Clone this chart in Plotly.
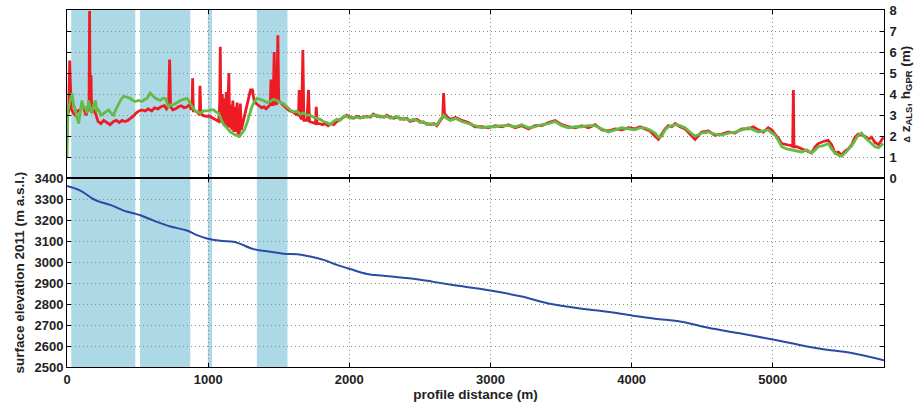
import plotly.graph_objects as go

# ---------------- data ----------------
ELEV_X = [0, 94, 189, 236, 307, 401, 472, 519, 614, 732, 850, 921, 992, 1086, 1180, 1228,
          1322, 1416, 1535, 1629, 1723, 1818, 1912, 2007, 2125, 2243, 2479, 2597, 2786,
          3000, 3222, 3410, 3646, 3788, 4000, 4165, 4354, 4543, 4755, 4992, 5133, 5370,
          5559, 5788]
ELEV_Y = [3363, 3341, 3300, 3287, 3273, 3246, 3233, 3224, 3198, 3170, 3151, 3129, 3113,
          3102, 3097, 3087, 3062, 3052, 3040, 3038, 3027, 3011, 2987, 2967, 2944, 2935,
          2919, 2906, 2886, 2865, 2836, 2803, 2778, 2767, 2746, 2730, 2716, 2687, 2662,
          2632, 2613, 2583, 2567, 2532]

GREEN_X = [0, 7, 20, 35, 47, 59, 70, 83, 95, 106, 118, 130, 141, 153, 165, 177, 189, 201,
           212, 224, 242, 260, 278, 295, 312, 330, 348, 366, 383, 401, 425, 449, 466, 484,
           508, 531, 549, 567, 590, 608, 626, 644, 661, 678, 696, 708, 720, 738, 755, 780,
           803, 826, 850, 862, 873, 891, 909, 927, 944, 967, 991, 1015, 1039, 1056, 1074,
           1092, 1110, 1133, 1157, 1180, 1204, 1222, 1239, 1257, 1274, 1292, 1310, 1328,
           1345, 1368, 1392, 1416, 1440, 1463, 1487, 1510, 1534, 1558, 1581, 1604, 1628,
           1652, 1676, 1700, 1723, 1747, 1770, 1794, 1817, 1840, 1864, 1888, 1912, 1935,
           1960, 1982, 2005, 2030, 2053, 2078, 2100, 2124, 2150, 2170, 2195, 2220, 2245,
           2266, 2290, 2315, 2337, 2360, 2385, 2408, 2430, 2455, 2479, 2500, 2525, 2549,
           2575, 2600, 2620, 2645, 2667, 2690, 2715, 2738, 2750, 2797, 2844, 2890, 2939,
           2985, 3033, 3080, 3128, 3175, 3222, 3270, 3316, 3364, 3411, 3458, 3505, 3552,
           3600, 3647, 3694, 3741, 3790, 3836, 3883, 3930, 3977, 4024, 4060, 4095, 4130,
           4166, 4190, 4213, 4237, 4260, 4285, 4308, 4343, 4378, 4413, 4449, 4496, 4544,
           4590, 4638, 4685, 4732, 4780, 4827, 4862, 4898, 4933, 4968, 4992, 5016, 5040,
           5063, 5098, 5134, 5170, 5204, 5240, 5275, 5300, 5322, 5358, 5393, 5417, 5440,
           5465, 5488, 5512, 5535, 5560, 5582, 5605, 5629, 5652, 5676, 5700, 5724, 5750,
           5783]
GREEN_Y = [1.0, 3.2, 3.6, 4.05, 3.5, 3.25, 2.9, 2.6, 3.2, 3.7, 3.3, 3.4, 3.1, 3.7, 3.3, 3.1,
           3.5, 3.7, 3.2, 3.25, 3.0, 3.1, 3.2, 3.25, 3.1, 3.0, 3.3, 3.55, 3.75, 3.9, 3.85,
           3.8, 3.7, 3.65, 3.7, 3.65, 3.75, 3.8, 4.05, 3.9, 3.8, 3.75, 3.7, 3.8, 3.8, 3.6,
           3.4, 3.5, 3.5, 3.6, 3.7, 3.75, 3.8, 3.7, 3.55, 3.35, 3.2, 3.15, 3.1, 3.2, 3.2,
           3.25, 3.25, 3.15, 3.1, 2.8, 2.55, 2.4, 2.2, 2.1, 2.05, 2.0, 2.15, 2.3, 2.6, 3.0,
           3.4, 3.65, 3.8, 3.75, 3.7, 3.6, 3.65, 3.75, 3.7, 3.6, 3.55, 3.4, 3.25, 3.15, 3.2,
           3.05, 3.1, 3.0, 3.0, 2.9, 2.85, 2.8, 2.7, 2.65, 2.55, 2.7, 2.8, 2.75, 2.95, 2.95,
           2.85, 2.9, 2.9, 2.85, 2.95, 2.9, 2.95, 3.0, 3.0, 2.9, 2.95, 2.95, 2.85, 2.9, 2.95,
           2.8, 2.85, 2.8, 2.75, 2.8, 2.75, 2.65, 2.7, 2.55, 2.6, 2.55, 2.55, 2.8, 3.0, 2.85,
           2.75, 2.8, 2.85, 2.7, 2.6, 2.5, 2.4, 2.45, 2.45, 2.5, 2.5, 2.45, 2.55, 2.4, 2.45,
           2.55, 2.6, 2.7, 2.5, 2.4, 2.45, 2.45, 2.5, 2.5, 2.35, 2.2, 2.3, 2.4, 2.35, 2.3,
           2.4, 2.4, 2.3, 2.15, 1.95, 2.0, 2.3, 2.45, 2.5, 2.55, 2.5, 2.4, 2.2, 2.0, 2.15,
           2.2, 2.1, 2.05, 2.15, 2.2, 2.3, 2.4, 2.3, 2.2, 2.25, 2.3, 2.15, 2.05, 1.8, 1.5,
           1.4, 1.35, 1.3, 1.25, 1.35, 1.2, 1.35, 1.5, 1.55, 1.65, 1.4, 1.2, 1.1, 1.05, 1.2,
           1.35, 1.55, 1.8, 2.05, 2.15, 1.95, 1.8, 1.65, 1.5, 1.45, 1.65]

RED_X = [0, 5, 12, 19, 30, 45, 59, 75, 95, 110, 120, 135, 150, 156, 160, 164, 170, 175,
         185, 201, 220, 240, 260, 285, 305, 330, 350, 370, 390, 410, 430, 449, 470, 490,
         510, 531, 555, 575, 600, 620, 645, 665, 690, 705, 720, 727, 734, 750, 770, 790,
         810, 830, 850, 868, 878, 886, 890, 895, 910, 930, 938, 942, 948, 960, 985, 1010,
         1035, 1060, 1075, 1082, 1086, 1090, 1100, 1108, 1115, 1122, 1128, 1134, 1140,
         1147, 1152, 1160, 1168, 1175, 1182, 1190, 1197, 1205, 1212, 1220, 1228, 1235,
         1245, 1255, 1270, 1285, 1300, 1314, 1325, 1340, 1360, 1380, 1395, 1410, 1425,
         1440, 1445, 1450, 1460, 1468, 1474, 1485, 1494, 1500, 1520, 1540, 1560, 1580,
         1600, 1620, 1640, 1645, 1650, 1662, 1671, 1678, 1700, 1711, 1718, 1740, 1760,
         1766, 1772, 1790, 1810, 1830, 1850, 1870, 1890, 1912, 1935, 1960, 1982, 2005,
         2030, 2053, 2078, 2100, 2124, 2150, 2170, 2195, 2220, 2245, 2266, 2290, 2315,
         2337, 2360, 2385, 2408, 2430, 2455, 2479, 2500, 2525, 2549, 2575, 2600, 2620,
         2645, 2662, 2668, 2674, 2690, 2715, 2738, 2750, 2797, 2844, 2890, 2939, 2985,
         3033, 3080, 3128, 3175, 3222, 3270, 3316, 3364, 3411, 3458, 3505, 3552, 3600,
         3647, 3694, 3741, 3790, 3836, 3883, 3930, 3977, 4024, 4060, 4095, 4130, 4166,
         4190, 4213, 4237, 4260, 4285, 4308, 4343, 4378, 4413, 4449, 4496, 4544, 4590,
         4638, 4685, 4732, 4780, 4827, 4862, 4898, 4933, 4968, 4992, 5016, 5040, 5063,
         5098, 5134, 5141, 5146, 5150, 5170, 5204, 5240, 5275, 5300, 5322, 5358, 5393,
         5417, 5440, 5465, 5488, 5512, 5535, 5560, 5582, 5605, 5629, 5652, 5676, 5700,
         5724, 5750, 5783]
RED_Y = [2.9, 3.1, 3.2, 5.6, 3.3, 3.1, 3.0, 3.2, 3.25, 3.5, 3.3, 3.0, 3.4, 3.2, 7.95, 3.5,
         4.9, 3.1, 3.3, 3.1, 2.7, 2.6, 2.75, 2.65, 2.55, 2.7, 2.75, 2.65, 2.75, 2.7, 2.75,
         2.85, 2.95, 3.1, 3.2, 3.25, 3.2, 3.3, 3.2, 3.35, 3.3, 3.4, 3.45, 3.3, 3.45, 5.65,
         3.4, 3.25, 3.3, 3.4, 3.45, 3.35, 3.4, 3.5, 3.3, 3.3, 4.75, 3.2, 3.2, 3.1, 3.0,
         4.4, 3.1, 3.0, 2.95, 2.95, 2.85, 2.75, 2.7, 3.6, 6.25, 2.65, 4.0, 2.6, 3.8, 2.5,
         4.1, 2.4, 3.6, 5.0, 2.4, 3.5, 2.3, 3.7, 2.2, 3.4, 2.2, 3.6, 2.1, 1.95, 3.55, 2.3,
         2.6, 2.9, 3.3, 3.8, 4.2, 4.2, 3.7, 3.55, 3.45, 3.35, 3.4, 3.3, 3.4, 3.5, 4.7, 3.5,
         3.5, 6.0, 3.6, 3.5, 6.8, 3.7, 3.55, 3.4, 3.3, 3.2, 3.15, 3.05, 3.0, 4.2, 2.95,
         2.8, 6.1, 2.75, 2.75, 4.2, 2.7, 2.65, 2.6, 3.4, 2.6, 2.6, 2.55, 2.6, 2.5, 2.6,
         2.55, 2.7, 2.8, 2.9, 3.0, 2.9, 2.85, 2.95, 2.9, 2.9, 2.95, 2.9, 3.05, 2.95, 2.95,
         2.9, 3.0, 2.9, 2.85, 2.9, 2.85, 2.8, 2.85, 2.7, 2.75, 2.8, 2.7, 2.65, 2.6, 2.55,
         2.6, 2.5, 2.75, 2.9, 4.05, 3.1, 2.95, 2.8, 2.85, 2.9, 2.75, 2.65, 2.45, 2.45, 2.4,
         2.5, 2.45, 2.55, 2.4, 2.5, 2.35, 2.5, 2.5, 2.65, 2.75, 2.55, 2.45, 2.4, 2.5, 2.4,
         2.55, 2.3, 2.25, 2.35, 2.3, 2.4, 2.35, 2.45, 2.35, 2.25, 2.0, 1.85, 2.1, 2.35,
         2.5, 2.45, 2.6, 2.45, 2.35, 2.1, 1.85, 2.2, 2.25, 2.05, 2.1, 2.2, 2.15, 2.35,
         2.35, 2.45, 2.3, 2.2, 2.4, 2.3, 2.1, 1.9, 1.65, 1.6, 1.55, 1.5, 4.2, 1.5, 1.5, 1.4,
         1.3, 1.2, 1.5, 1.65, 1.75, 1.8, 1.6, 1.2, 1.25, 1.1, 1.3, 1.4, 1.6, 1.95, 2.1,
         2.05, 2.0, 1.85, 1.95, 1.7, 1.6, 1.95]

SHADED_START = [30, 517, 998, 1345]
SHADED_END = [484, 873, 1027, 1562]

X_TICKS = [0, 1000, 2000, 3000, 4000, 5000]
DZ_TICKS = [0, 1, 2, 3, 4, 5, 6, 7, 8]
ELEV_TICKS = [2500, 2600, 2700, 2800, 2900, 3000, 3100, 3200, 3300, 3400]
X_MAX = 5788

# ---------------- figure ----------------
FONT = "Liberation Sans, Arial, sans-serif"
TITLE_FONT = dict(family=FONT, size=13.5, color="#222", weight="bold")
TICK_FONT = dict(family=FONT, size=13, color="#222", weight="bold")
fig = go.Figure()

fig.add_trace(go.Scatter(x=RED_X, y=RED_Y, mode="lines", xaxis="x", yaxis="y",
                         line=dict(color="#ED1C24", width=2.8), showlegend=False))
fig.add_trace(go.Scatter(x=GREEN_X, y=GREEN_Y, mode="lines", xaxis="x", yaxis="y",
                         line=dict(color="#66BB46", width=2.8), showlegend=False))
fig.add_trace(go.Scatter(x=ELEV_X, y=ELEV_Y, mode="lines", xaxis="x2", yaxis="y2",
                         line=dict(color="#2A4BA5", width=2), line_shape="spline",
                         showlegend=False))

for s, e in zip(SHADED_START, SHADED_END):
    fig.add_shape(type="rect", xref="x2", yref="paper", x0=s, x1=e, y0=0, y1=1,
                  fillcolor="#ADD8E6", line=dict(width=0), layer="below")

split = 0.5286
axis_common = dict(showline=True, linecolor="black", linewidth=1, mirror="ticks",
                   ticks="inside", ticklen=4, tickcolor="black", automargin=False,
                   showgrid=True, gridcolor="#8c8c8c", griddash="1px,3px", gridwidth=1,
                   zeroline=False, ticklabeloverflow="allow", tickfont=TICK_FONT)

fig.update_layout(
    width=915, height=405,
    margin=dict(l=67, r=31, t=10, b=38),
    paper_bgcolor="white", plot_bgcolor="rgba(0,0,0,0)",
    font=dict(family=FONT, color="#222"),
    xaxis=dict(axis_common, domain=[0, 1], anchor="y", range=[0, X_MAX],
               tickvals=X_TICKS, showticklabels=False, matches="x2"),
    yaxis=dict(axis_common, domain=[split, 1], anchor="x", side="right",
               range=[0, 8], tickvals=DZ_TICKS, ticklabelstandoff=2,
               title=dict(text="<span style='font-size:9px'>Δ</span> z<sub>ALS</sub>, h<sub>GPR</sub> (m)",
                          font=TITLE_FONT, standoff=2)),
    xaxis2=dict(axis_common, domain=[0, 1], anchor="y2", range=[0, X_MAX],
                tickvals=X_TICKS,
                title=dict(text="profile distance (m)", font=TITLE_FONT, standoff=3)),
    yaxis2=dict(axis_common, domain=[0, split], anchor="x2", side="left",
                range=[2500, 3400], tickvals=ELEV_TICKS,
                title=dict(text="surface elevation 2011 (m a.s.l.)", font=TITLE_FONT,
                           standoff=6)),
)

# remove the default 8 px page margin so the 915x405 figure fills the window
fig.write_html("out.html", config={"displayModeBar": False},
               post_script="document.body.style.margin='0';")
